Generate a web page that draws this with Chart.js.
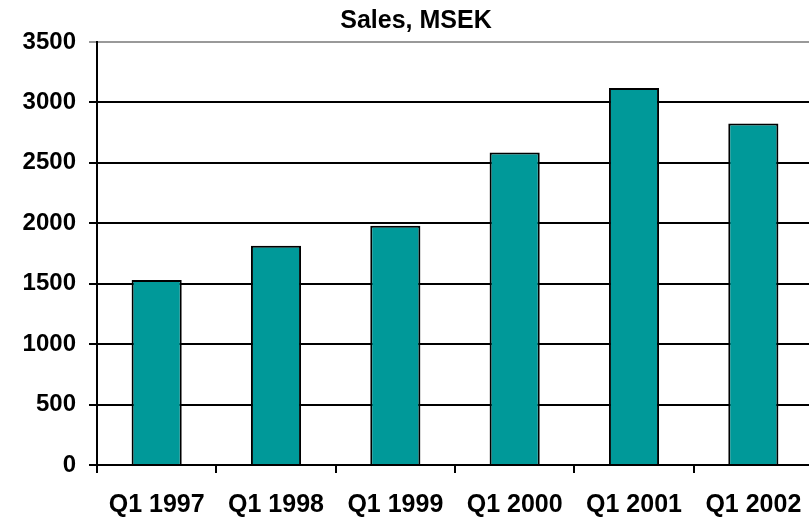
<!DOCTYPE html>
<html>
<head>
<meta charset="utf-8">
<script src="https://cdn.jsdelivr.net/npm/chart.js@4/dist/chart.umd.min.js"></script>
<style>
  html, body { margin: 0; padding: 0; background: #fff; overflow: hidden; }
  #wrap { width: 820px; height: 518px; }
</style>
</head>
<body>
<div id="wrap"><canvas id="sales-chart" width="820" height="518"></canvas></div>
<script>
// Chart data
const quarters = ['Q1 1997', 'Q1 1998', 'Q1 1999', 'Q1 2000', 'Q1 2001', 'Q1 2002'];
const sales = [1530, 1815, 1980, 2585, 3120, 2825];
const yTicks = [0, 500, 1000, 1500, 2000, 2500, 3000, 3500];

const fontFamily = '"Liberation Sans", Arial, sans-serif';

function createChart() {
    const ctx = document.getElementById('sales-chart').getContext('2d');
    const myChart = new Chart(ctx, {
        type: 'bar',
        data: {
            labels: quarters,
            datasets: [{
                label: 'Sales, MSEK',
                data: sales,
                backgroundColor: '#009999',
                borderColor: '#000000',
                borderWidth: 2,
                borderSkipped: 'bottom',
                categoryPercentage: 1.0,
                barPercentage: 0.42
            }]
        },
        options: {
            responsive: false,
            animation: false,
            layout: {
                padding: { left: 19, right: 7, top: 0, bottom: 0 }
            },
            plugins: {
                legend: { display: false },
                tooltip: { enabled: false },
                title: {
                    display: true,
                    text: 'Sales, MSEK',
                    color: '#000',
                    font: { family: fontFamily, size: 25, weight: 'bold', lineHeight: 1.2 },
                    padding: { top: 6, bottom: 6 }
                }
            },
            scales: {
                x: {
                    afterFit: function (scale) { scale.height = 53; },
                    grid: {
                        offset: true,
                        drawOnChartArea: false,
                        drawTicks: true,
                        tickLength: 8,
                        color: '#000',
                        lineWidth: 2
                    },
                    border: { display: true, color: '#000', width: 2 },
                    ticks: {
                        color: '#000',
                        padding: 17,
                        maxRotation: 0,
                        font: { family: fontFamily, size: 25, weight: 'bold' }
                    }
                },
                y: {
                    min: 0,
                    max: 3500,
                    afterFit: function (scale) { scale.width = 78; },
                    afterBuildTicks: function (scale) {
                        scale.ticks = yTicks.map(v => ({ value: v }));
                    },
                    grid: {
                        drawTicks: true,
                        tickLength: 8,
                        color: c => (c.tick && c.tick.value === 3500 ? '#999999' : '#000000'),
                        lineWidth: 2
                    },
                    border: { display: true, color: '#000', width: 2 },
                    ticks: {
                        color: '#000',
                        padding: 13,
                        callback: value => String(value),
                        font: { family: fontFamily, size: 24, weight: 'bold' }
                    }
                }
            }
        }
    });
}

createChart();
</script>
</body>
</html>
